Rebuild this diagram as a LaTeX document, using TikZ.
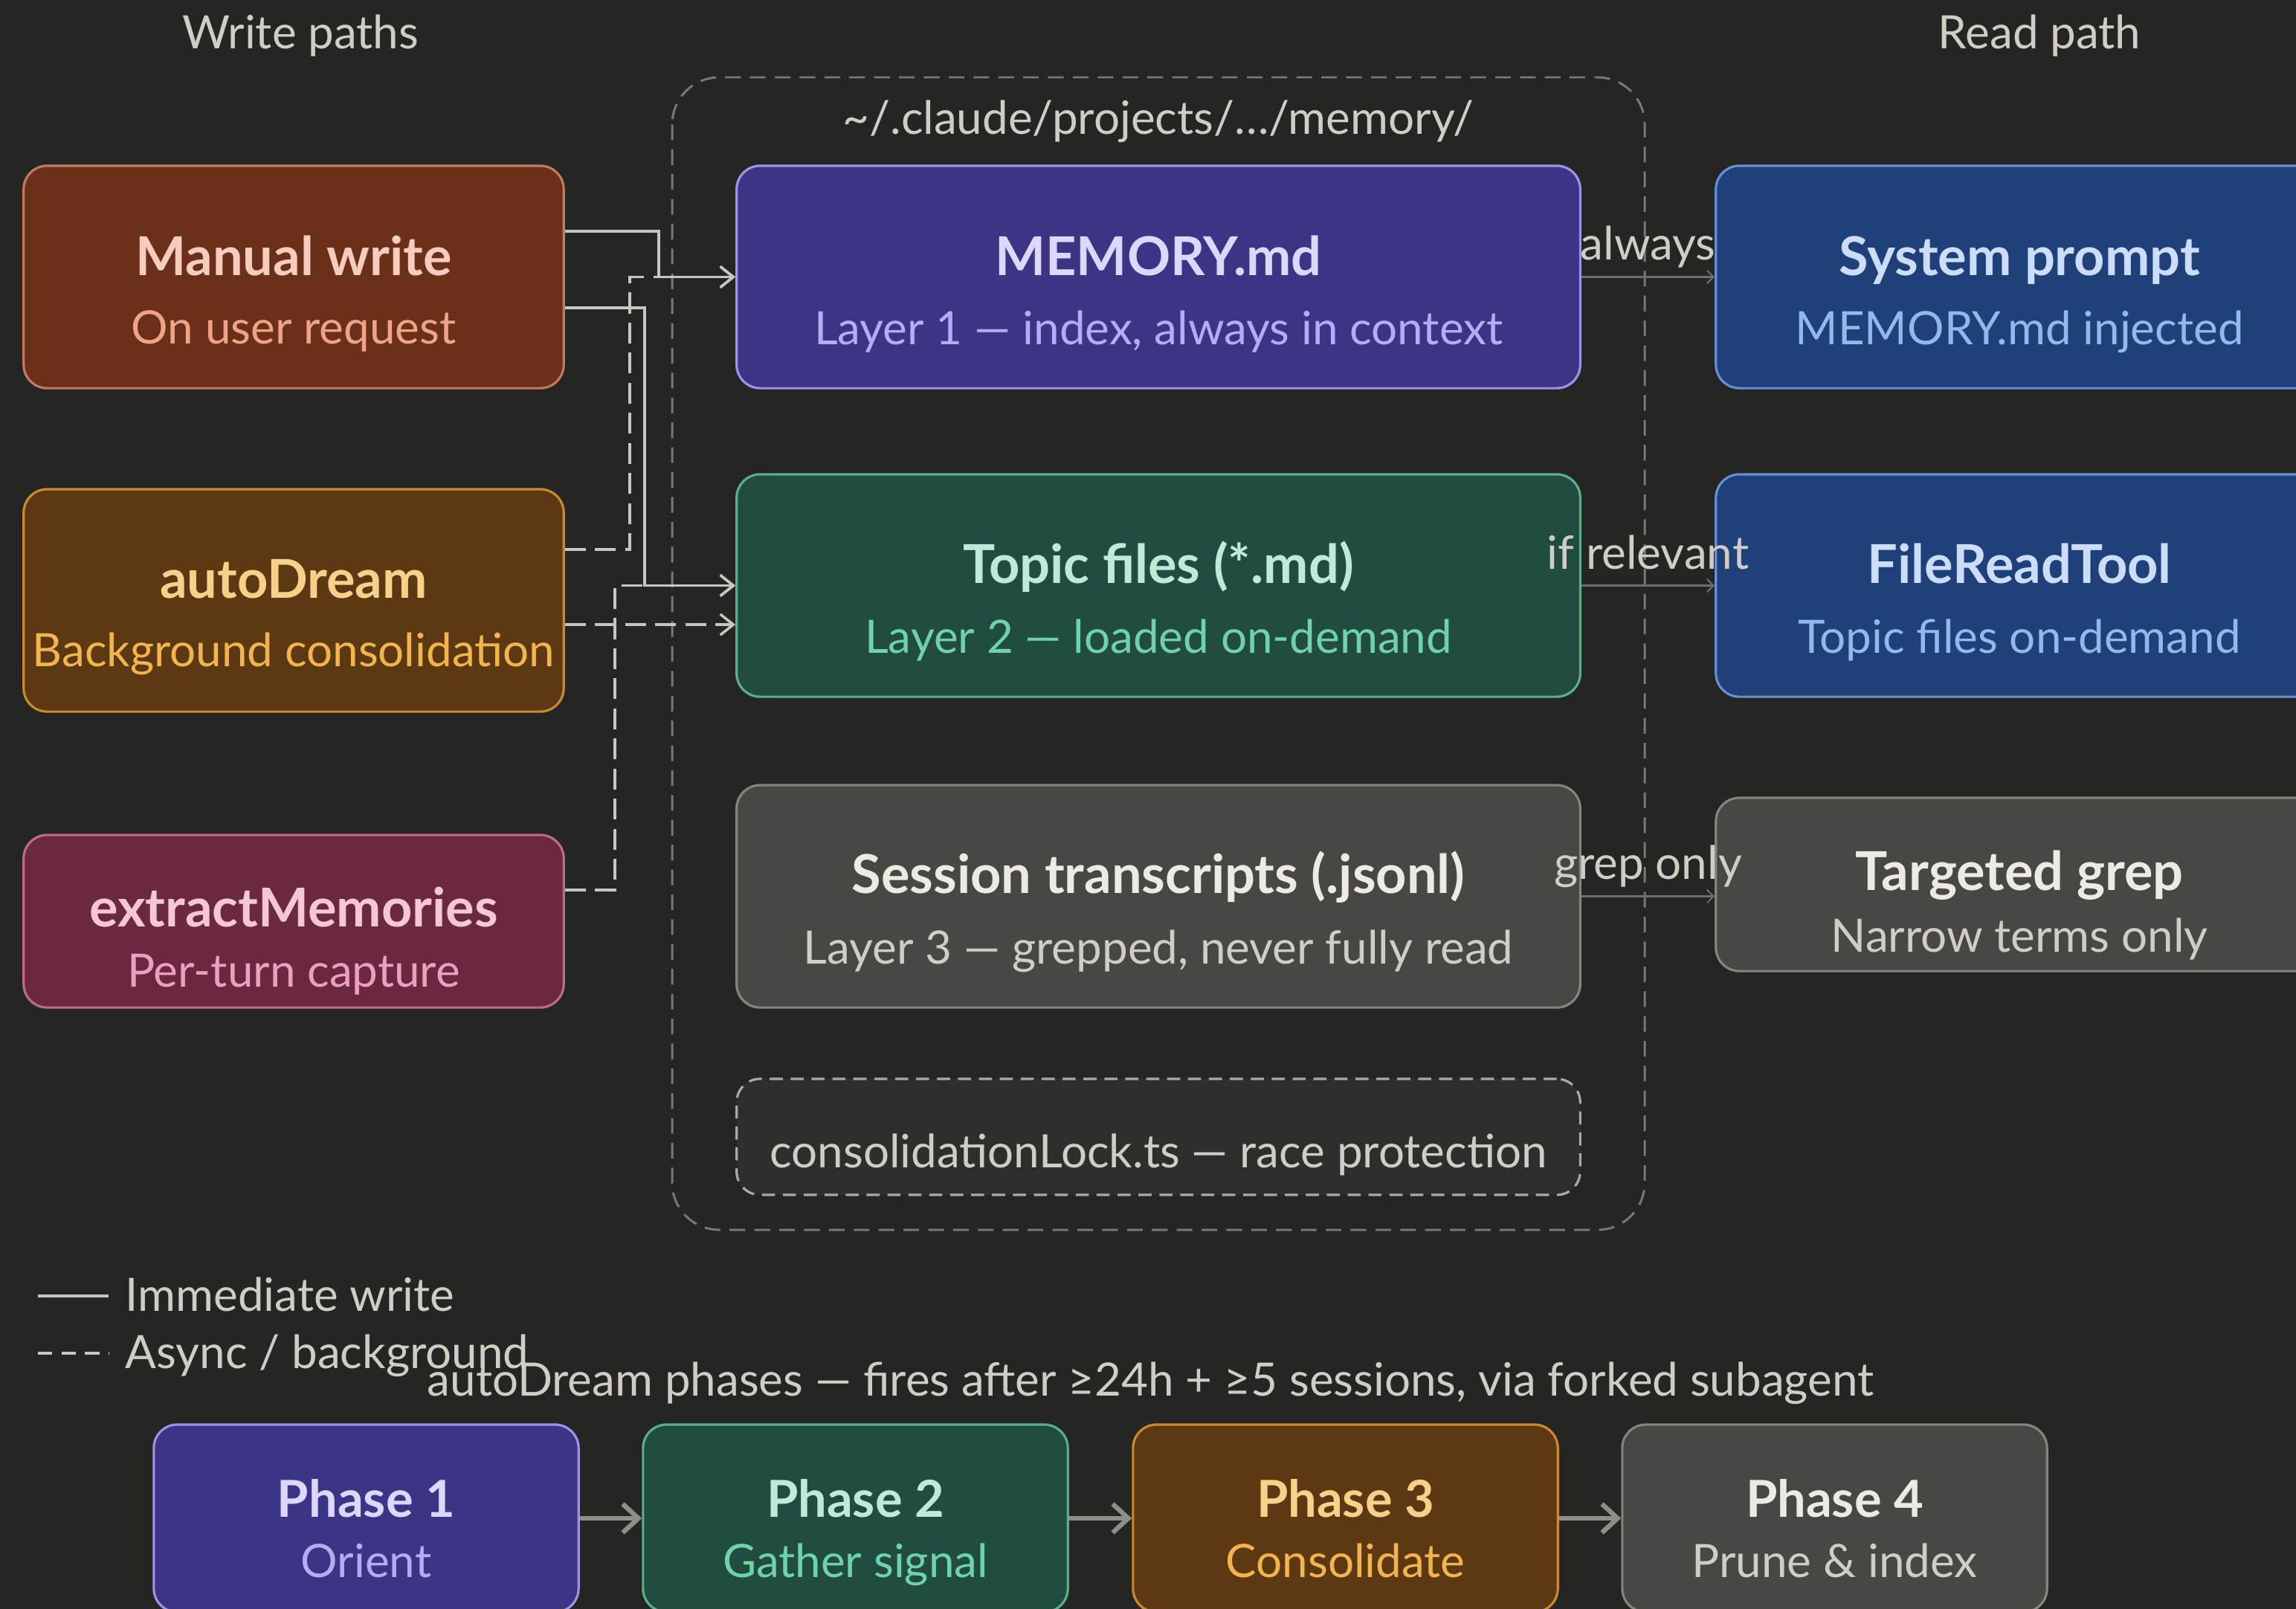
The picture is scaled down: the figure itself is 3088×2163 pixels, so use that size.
\documentclass[tikz,border=0pt]{standalone}
\usepackage{fontspec}
\setmainfont{Lato}
\usetikzlibrary{arrows.meta,calc}
\definecolor{bg}{HTML}{252523}
\definecolor{mwF}{HTML}{6B301A}\definecolor{mwD}{HTML}{C47A60}\definecolor{mwT}{HTML}{F6CDBD}\definecolor{mwS}{HTML}{EFA585}
\definecolor{adF}{HTML}{5C3912}\definecolor{adD}{HTML}{C98B2E}\definecolor{adT}{HTML}{F7D08A}\definecolor{adS}{HTML}{F2B54E}
\definecolor{emF}{HTML}{6A2841}\definecolor{emD}{HTML}{C06A88}\definecolor{emT}{HTML}{F5C6D6}\definecolor{emS}{HTML}{EE9EBF}
\definecolor{puF}{HTML}{3C3585}\definecolor{puD}{HTML}{9C94E6}\definecolor{puT}{HTML}{DCD8FD}\definecolor{puS}{HTML}{B4ACF5}
\definecolor{grF}{HTML}{214C3F}\definecolor{grD}{HTML}{5BAE8E}\definecolor{grT}{HTML}{BFEAD8}\definecolor{grS}{HTML}{6ED3AB}
\definecolor{gyF}{HTML}{474743}\definecolor{gyD}{HTML}{86847E}\definecolor{gyT}{HTML}{ECEAE2}\definecolor{gyS}{HTML}{CFCDC5}
\definecolor{blF}{HTML}{1F4079}\definecolor{blD}{HTML}{6690D4}\definecolor{blT}{HTML}{CBDDF8}\definecolor{blS}{HTML}{90B9EE}
\definecolor{lkF}{HTML}{2E2E2C}\definecolor{lkD}{HTML}{ACAAA4}
\definecolor{txt}{HTML}{CFCDC5}
\definecolor{wline}{HTML}{C8C6C0}
\definecolor{rline}{HTML}{6F6E69}
\definecolor{pline}{HTML}{8F8D87}
\definecolor{cont}{HTML}{7A7873}
\tikzset{
  card/.style 2 args={draw=#2, fill=#1, rounded corners=9pt, line width=0.9pt, inner sep=0pt},
  ttl/.style={font=\fontsize{20.5}{25}\selectfont\bfseries, anchor=base, inner sep=0pt},
  pttl/.style={ttl, font=\fontsize{19.5}{24}\selectfont\bfseries},
  sub/.style={font=\fontsize{17.6}{22}\selectfont, anchor=base, inner sep=0pt},
  lbl/.style={font=\fontsize{17.6}{22}\selectfont, text=txt, anchor=base, inner sep=0pt},
  wr/.style={draw=wline, line width=1pt, -{Straight Barb[length=5pt,width=8pt]}},
  async/.style={wr, dash pattern=on 8pt off 3.5pt},
  rd/.style={draw=rline, line width=0.6pt, -{Straight Barb[length=2.5pt,width=5pt]}},
  ph/.style={draw=pline, line width=1.8pt, -{Straight Barb[length=6pt,width=11pt]}},
}
\begin{document}
\begin{tikzpicture}[x=0.01cm,y=-0.01cm]
\useasboundingbox (0,0) rectangle (3088,2163);
\fill[bg] (-10,-10) rectangle (3100,2180);
% container
\draw[cont, line width=0.85pt, dash pattern=on 6pt off 3.5pt, rounded corners=18pt] (904,104) rectangle (2212,1654);
\node[lbl] (contl) at (1558,180) {\textasciitilde/.claude/projects/…/memory/};
% headings
\node[lbl] (wph) at (404,65) {Write paths};
\node[lbl] (rph) at (2743,65) {Read path};
% write sources
\node[card={mwF}{mwD}, minimum width=7.26cm, minimum height=2.99cm] (mw) at (395,372.5) {};
\node[ttl, text=mwT] (mwt) at (395,370) {Manual write};
\node[sub, text=mwS] (mws) at (395,462) {On user request};
\node[card={adF}{adD}, minimum width=7.26cm, minimum height=2.99cm] (ad) at (395,807.5) {};
\node[ttl, text=adT] (adt) at (395,804) {autoDream};
\node[sub, text=adS] (ads) at (395,896) {Background consolidation};
\node[card={emF}{emD}, minimum width=7.26cm, minimum height=2.32cm] (em) at (395,1239) {};
\node[ttl, text=emT] (emt) at (395,1246) {extractMemories};
\node[sub, text=emS] (ems) at (395,1327) {Per-turn capture};
% memory layers
\node[card={puF}{puD}, minimum width=11.34cm, minimum height=2.99cm] (mem) at (1558,372.5) {};
\node[ttl, text=puT] (memt) at (1558,370) {MEMORY.md};
\node[sub, text=puS] (mems) at (1558,463) {Layer 1 — index, always in context};
\node[card={grF}{grD}, minimum width=11.34cm, minimum height=2.99cm] (top) at (1558,787.5) {};
\node[ttl, text=grT] (topt) at (1558,784) {Topic files (*.md)};
\node[sub, text=grS] (tops) at (1558,878) {Layer 2 — loaded on-demand};
\node[card={gyF}{gyD}, minimum width=11.34cm, minimum height=2.99cm] (ses) at (1558,1205.5) {};
\node[ttl, text=gyT] (sest) at (1558,1201) {Session transcripts (.jsonl)};
\node[sub, text=gyS] (sess) at (1558,1296) {Layer 3 — grepped, never fully read};
\node[card={lkF}{lkD}, dash pattern=on 5pt off 3pt, minimum width=11.34cm, minimum height=1.56cm] (lock) at (1558,1529) {};
\node[sub, text=gyS] (lockt) at (1558,1570) {consolidationLock.ts — race protection};
% read targets
\node[card={blF}{blD}, minimum width=8.16cm, minimum height=2.99cm] (sys) at (2716,372.5) {};
\node[ttl, text=blT] (syst) at (2716,370) {System prompt};
\node[sub, text=blS] (syss) at (2716,463) {MEMORY.md injected};
\node[card={blF}{blD}, minimum width=8.16cm, minimum height=2.99cm] (frt) at (2716,787.5) {};
\node[ttl, text=blT] (frtt) at (2716,784) {FileReadTool};
\node[sub, text=blS] (frts) at (2716,878) {Topic files on-demand};
\node[card={gyF}{gyD}, minimum width=8.16cm, minimum height=2.33cm] (grep) at (2716,1189.5) {};
\node[ttl, text=gyT] (grept) at (2716,1197) {Targeted grep};
\node[sub, text=gyS] (greps) at (2716,1280) {Narrow terms only};
% write connectors
\draw[async] ([yshift=0.685cm]ad.east) -- ++(87,0) |- (mem.west);
\draw[async] ([yshift=0.42cm]em.east) -- ++(67,0) |- (top.west);
\draw[async] ([yshift=-0.325cm]ad.east) coordinate (adx) -- (adx -| top.west);
\draw[wr] ([yshift=0.615cm]mw.east) -- ++(126,0) |- (mem.west);
\draw[wr] ([yshift=-0.415cm]mw.east) -- ++(107,0) |- (top.west);
% read connectors
\draw[rd] (mem.east) -- node[lbl, yshift=0.225cm] (l1) {always} (sys.west);
\draw[rd] (top.east) -- node[lbl, yshift=0.225cm] (l2) {if relevant} (frt.west);
\draw[rd] (ses.east) -- node[lbl, yshift=0.235cm] (l3) {grep only} (ses.east -| grep.west);
% legend
\coordinate (la1) at (51,1743); \coordinate (lb1) at (146,1743);
\coordinate (la2) at (51,1820); \coordinate (lb2) at (146,1820);
\draw[wline, line width=1pt] (la1) -- (lb1);
\draw[wline, line width=1pt, dash pattern=on 5.5pt off 3.5pt] (la2) -- (lb2);
\node[lbl, anchor=base west] (lg1) at (168,1763) {Immediate write};
\node[lbl, anchor=base west] (lg2) at (168,1840) {Async / background};
\node[lbl, anchor=base west] (phc) at (574,1877) {autoDream phases — fires after ≥24h + ≥5 sessions, via forked subagent};
% phases
\node[card={puF}{puD}, minimum width=5.71cm, minimum height=2.52cm] (p1) at (492.5,2042) {};
\node[pttl, text=puT] (p1t) at (492.5,2040) {Phase 1};
\node[sub, text=puS] (p1s) at (492.5,2121) {Orient};
\node[card={grF}{grD}, minimum width=5.71cm, minimum height=2.52cm] (p2) at (1150.5,2042) {};
\node[pttl, text=grT] (p2t) at (1150.5,2040) {Phase 2};
\node[sub, text=grS] (p2s) at (1150.5,2121) {Gather signal};
\node[card={adF}{adD}, minimum width=5.71cm, minimum height=2.52cm] (p3) at (1809.5,2042) {};
\node[pttl, text=adT] (p3t) at (1809.5,2040) {Phase 3};
\node[sub, text=adS] (p3s) at (1809.5,2121) {Consolidate};
\node[card={gyF}{gyD}, minimum width=5.71cm, minimum height=2.52cm] (p4) at (2467.5,2042) {};
\node[pttl, text=gyT] (p4t) at (2467.5,2040) {Phase 4};
\node[sub, text=gyS] (p4s) at (2467.5,2121) {Prune \& index};
\draw[ph] (p1.east) -- (p2.west);
\draw[ph] (p2.east) -- (p3.west);
\draw[ph] (p3.east) -- (p4.west);
\end{tikzpicture}
\end{document}
